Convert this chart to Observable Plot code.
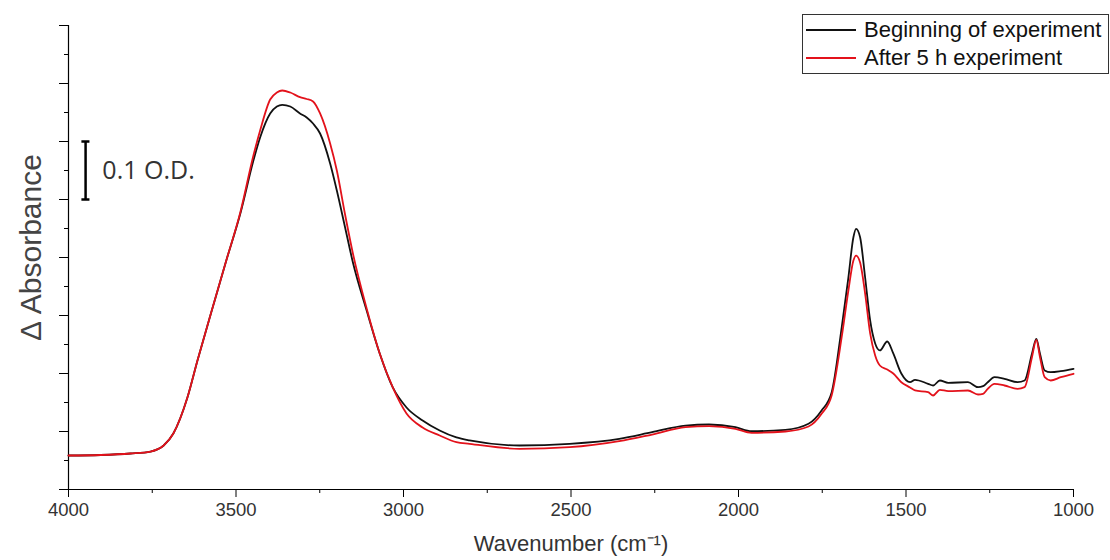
<!DOCTYPE html>
<html><head><meta charset="utf-8">
<script src="https://cdn.jsdelivr.net/npm/d3@7"></script>
<script src="https://cdn.jsdelivr.net/npm/@observablehq/plot@0.6"></script>
<style>
body{margin:0;background:#fff;}
#wrap{position:relative;width:1110px;height:560px;}
#legend{position:absolute;left:802px;top:14px;width:305px;height:58px;border:1px solid #333;font-family:"Liberation Sans",Arial,sans-serif;font-size:22px;color:#111;background:#fff;}
.row{position:absolute;left:3px;height:28px;display:flex;align-items:center;white-space:nowrap;}
.sw{width:50px;height:0;border-top:2.5px solid;margin-right:8px;}
</style></head><body>
<div id="wrap"><div id="chart"></div><div id="legend"></div></div>
<script>
const wavenumber = [4000, 3904, 3815, 3755, 3716, 3687, 3645, 3615, 3568, 3529, 3487, 3448, 3428, 3398, 3378, 3362, 3338, 3309, 3289, 3270, 3249, 3219, 3199, 3175, 3151, 3110, 3071, 3032, 2991, 2943, 2892, 2842, 2803, 2654, 2504, 2356, 2258, 2158, 2088, 2009, 1961, 1860, 1791, 1752, 1722, 1692, 1672, 1657, 1649, 1637, 1622, 1607, 1592, 1578, 1556, 1538, 1514, 1488, 1473, 1434, 1419, 1399, 1374, 1315, 1285, 1270, 1256, 1236, 1206, 1167, 1146, 1124, 1111, 1100, 1086, 1068, 1038, 1000];
const beginning = [0.0586, 0.0595, 0.0621, 0.0655, 0.0759, 0.0966, 0.1586, 0.2224, 0.3172, 0.3948, 0.4759, 0.5672, 0.6069, 0.6483, 0.6603, 0.6633, 0.6603, 0.6483, 0.6414, 0.6310, 0.6138, 0.5621, 0.5155, 0.4535, 0.3914, 0.3086, 0.2345, 0.1759, 0.1414, 0.1190, 0.1017, 0.0897, 0.0845, 0.0759, 0.0788, 0.0874, 0.0988, 0.1103, 0.1121, 0.1074, 0.1005, 0.1029, 0.1133, 0.1362, 0.1672, 0.2793, 0.3655, 0.4350, 0.4495, 0.4350, 0.3655, 0.2914, 0.2517, 0.2397, 0.2552, 0.2345, 0.2000, 0.1850, 0.1891, 0.1822, 0.1793, 0.1879, 0.1840, 0.1850, 0.1764, 0.1781, 0.1850, 0.1936, 0.1909, 0.1850, 0.1879, 0.2340, 0.2598, 0.2340, 0.2052, 0.2022, 0.2040, 0.2081];
const after5h = [0.0586, 0.0595, 0.0621, 0.0655, 0.0759, 0.0966, 0.1586, 0.2224, 0.3172, 0.3948, 0.4780, 0.5759, 0.6190, 0.6724, 0.6845, 0.6879, 0.6845, 0.6764, 0.6733, 0.6690, 0.6483, 0.5966, 0.5500, 0.4759, 0.4069, 0.3121, 0.2345, 0.1759, 0.1310, 0.1069, 0.0931, 0.0816, 0.0788, 0.0702, 0.0729, 0.0833, 0.0948, 0.1074, 0.1091, 0.1047, 0.0978, 0.1000, 0.1086, 0.1305, 0.1621, 0.2626, 0.3431, 0.3948, 0.4034, 0.3914, 0.3379, 0.2690, 0.2310, 0.2138, 0.2069, 0.2000, 0.1850, 0.1759, 0.1707, 0.1678, 0.1621, 0.1719, 0.1695, 0.1707, 0.1638, 0.1650, 0.1736, 0.1822, 0.1793, 0.1736, 0.1764, 0.2281, 0.2581, 0.2281, 0.1936, 0.1879, 0.1936, 0.1995];
const seriesNames = ["Beginning of experiment", "After 5 h experiment"];
const seriesColors = ["#111111", "#e3121b"];
const xMajorTicks = [4000, 3500, 3000, 2500, 2000, 1500, 1000];
const xMinorTicks = [3750, 3250, 2750, 2250, 1750, 1250];
const yMajorTicks = [0, 0.1, 0.2, 0.3, 0.4, 0.5, 0.6, 0.7, 0.8];
const yMinorTicks = [0.05, 0.15, 0.25, 0.35, 0.45, 0.55, 0.65, 0.75];
const xLabel = "Wavenumber (cm\u207B\u00B9)";
const yLabel = "\u0394 Absorbance";
const scaleBarLabel = "0.1 O.D.";
const scaleBarRange = [0.5, 0.6];

const font = '"Liberation Sans", Arial, sans-serif';
const chart = Plot.plot({
  width: 1110, height: 560,
  marginLeft: 68, marginRight: 37, marginTop: 25, marginBottom: 71,
  x: {type: "linear", domain: [4000, 1000]},
  y: {type: "linear", domain: [0, 0.8]},
  style: {fontFamily: font, background: "#fff", color: "#333"},
  marks: [
    Plot.axisX({ticks: xMajorTicks, tickSize: 8, tickPadding: 5, fontSize: 18.5, label: null, tickFormat: d => String(d), stroke: "#000", fill: "#333"}),
    Plot.axisX({ticks: xMinorTicks, tickSize: 4, label: null, tickFormat: () => "", stroke: "#000"}),
    Plot.axisY({ticks: yMajorTicks, tickSize: 9, label: null, tickFormat: () => "", stroke: "#000"}),
    Plot.axisY({ticks: yMinorTicks, tickSize: 4, label: null, tickFormat: () => "", stroke: "#000"}),
    Plot.ruleX([4000], {stroke: "#000", strokeWidth: 1.2}),
    Plot.ruleY([0], {stroke: "#000", strokeWidth: 1.2}),
    Plot.line(wavenumber, {x: d => d, y: (d, i) => beginning[i], stroke: seriesColors[0], strokeWidth: 1.8, curve: "monotone-x"}),
    Plot.line(wavenumber, {x: d => d, y: (d, i) => after5h[i], stroke: seriesColors[1], strokeWidth: 1.8, curve: "monotone-x"}),
    Plot.ruleX([3949], {y1: scaleBarRange[0], y2: scaleBarRange[1], stroke: "#000", strokeWidth: 2.5}),
    Plot.ruleY(scaleBarRange, {x1: 3960, x2: 3936, stroke: "#000", strokeWidth: 2.5}),
    Plot.text([scaleBarLabel], {x: 3899, y: 0.55, textAnchor: "start", fontSize: 25, fontFamily: '"Open Sans", sans-serif', fill: "#333"}),
    Plot.text([xLabel], {frameAnchor: "bottom", dy: 61, fontSize: 22, fill: "#333"}),
    Plot.text([yLabel], {frameAnchor: "left", textAnchor: "middle", dx: -37, dy: -10, rotate: -90, fontSize: 30, fill: "#444"})
  ]
});
document.getElementById("chart").appendChild(chart);

const legend = document.getElementById("legend");
seriesNames.forEach((name, i) => {
  const row = document.createElement("div");
  row.className = "row";
  row.style.top = (1 + i * 28) + "px";
  const sw = document.createElement("span");
  sw.className = "sw";
  sw.style.borderTopColor = seriesColors[i];
  const t = document.createElement("span");
  t.textContent = name;
  row.appendChild(sw); row.appendChild(t);
  legend.appendChild(row);
});
</script>
</body></html>
